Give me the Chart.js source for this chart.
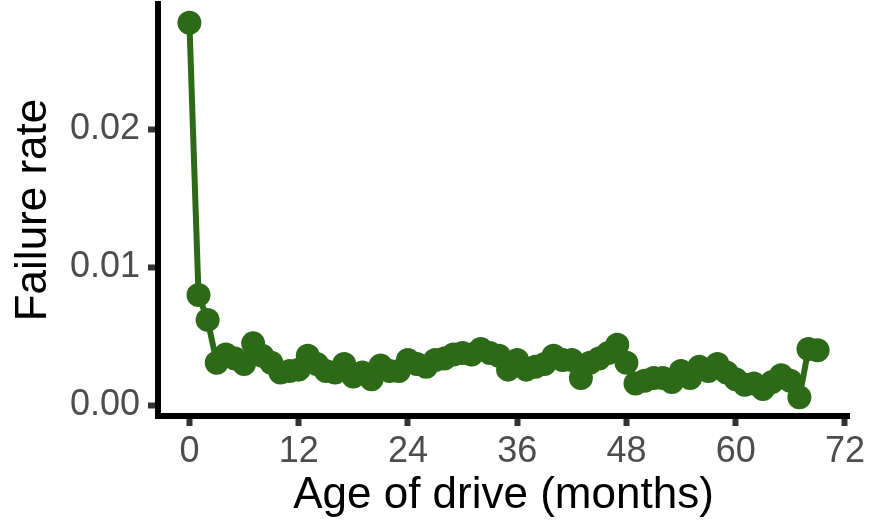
<!DOCTYPE html>
<html>
<head>
<meta charset="utf-8">
<script src="https://cdn.jsdelivr.net/npm/chart.js@4/dist/chart.umd.min.js"></script>
<style>
    html, body { margin: 0; padding: 0; background: #fff; }
    #wrap { width: 882px; height: 523px; }
</style>
</head>
<body>
<div id="wrap"><canvas id="chart"></canvas></div>
<script>
// Monthly failure rate by drive age
const ageMonths = [
    0, 1, 2, 3, 4, 5, 6, 7, 8, 9,
    10, 11, 12, 13, 14, 15, 16, 17, 18, 19,
    20, 21, 22, 23, 24, 25, 26, 27, 28, 29,
    30, 31, 32, 33, 34, 35, 36, 37, 38, 39,
    40, 41, 42, 43, 44, 45, 46, 47, 48, 49,
    50, 51, 52, 53, 54, 55, 56, 57, 58, 59,
    60, 61, 62, 63, 64, 65, 66, 67, 68, 69,
];
const failureRate = [
    0.0277, 0.0080, 0.0062, 0.0031, 0.0037, 0.0034, 0.0030, 0.0045, 0.0036, 0.0031,
    0.0024, 0.0025, 0.0026, 0.0036, 0.0030, 0.0025, 0.0024, 0.0030, 0.0021, 0.0024,
    0.0019, 0.0029, 0.0025, 0.0025, 0.0033, 0.0030, 0.0028, 0.0033, 0.0034, 0.0037,
    0.0038, 0.0037, 0.0041, 0.0038, 0.0036, 0.0026, 0.0033, 0.0026, 0.0028, 0.0030,
    0.0036, 0.0033, 0.0033, 0.0020, 0.0031, 0.0034, 0.0038, 0.0044, 0.0031, 0.0016,
    0.0018, 0.0020, 0.0020, 0.0017, 0.0025, 0.0020, 0.0028, 0.0025, 0.0030, 0.0024,
    0.0019, 0.0015, 0.0016, 0.0012, 0.0017, 0.0022, 0.0018, 0.0006, 0.0041, 0.0040,
];
const xTicks = [0, 12, 24, 36, 48, 60, 72];
const yTicks = [0, 0.01, 0.02];

const lineColor = "#2d6a18";
const FONT = "'Liberation Sans', Helvetica, Arial, sans-serif";

const points = ageMonths.map((m, i) => ({ x: m, y: failureRate[i] }));

// ggplot-style 5% expansion around the data range
const xSpan = Math.max(...ageMonths) - Math.min(...ageMonths);
const ySpan = Math.max(...failureRate) - Math.min(...failureRate);
const xMin = Math.min(...ageMonths) - xSpan * 0.05;
const xMax = Math.max(...ageMonths) + xSpan * 0.05;
const yMin = Math.min(...failureRate) - ySpan * 0.05;
const yMax = Math.max(...failureRate) + ySpan * 0.05;

const axisCommon = {
    border: { display: true, color: "#000", width: 6 },
    grid: {
        display: true,
        drawOnChartArea: false,
        drawTicks: true,
        tickLength: 10,
        tickWidth: 6,
        tickColor: "#333",
    },
};

new Chart(document.getElementById("chart"), {
    type: "line",
    data: {
        datasets: [
            {
                data: points,
                borderColor: lineColor,
                backgroundColor: lineColor,
                borderWidth: 6,
                pointRadius: 12,
                pointBorderWidth: 0,
                pointHoverRadius: 12,
                tension: 0,
                clip: false,
            },
        ],
    },
    options: {
        responsive: true,
        maintainAspectRatio: false,
        animation: false,
        layout: {
            autoPadding: false,
            padding: { top: 4, right: 33, left: 0, bottom: 0 },
        },
        plugins: {
            legend: { display: false },
            tooltip: { enabled: false },
        },
        scales: {
            x: {
                ...axisCommon,
                type: "linear",
                min: xMin,
                max: xMax,
                afterBuildTicks: (scale) => {
                    scale.ticks = xTicks.map((v) => ({ value: v }));
                },
                afterFit: (scale) => {
                    scale.height = 107;
                    scale.paddingLeft = 0;
                    scale.paddingRight = 0;
                },
                ticks: {
                    color: "#4d4d4d",
                    font: { family: FONT, size: 36 },
                    padding: 4,
                    maxRotation: 0,
                    callback: (v) => String(v),
                },
                title: {
                    display: true,
                    text: "Age of drive (months)",
                    color: "#000",
                    font: { family: FONT, size: 44 },
                    padding: { top: 0, bottom: 1 },
                },
            },
            y: {
                ...axisCommon,
                type: "linear",
                min: yMin,
                max: yMax,
                afterBuildTicks: (scale) => {
                    scale.ticks = yTicks.map((v) => ({ value: v }));
                },
                afterFit: (scale) => {
                    // ticks sit well inside the range, so no label overhang
                    scale.width = 158;
                    scale.paddingTop = 0;
                    scale.paddingBottom = 0;
                },
                ticks: {
                    color: "#4d4d4d",
                    font: { family: FONT, size: 36 },
                    padding: 8,
                    callback: (v) => v.toFixed(2),
                },
                title: {
                    display: true,
                    text: "Failure rate",
                    color: "#000",
                    font: { family: FONT, size: 44 },
                    padding: { top: 7, bottom: 0 },
                },
            },
        },
    },
});
</script>
</body>
</html>
